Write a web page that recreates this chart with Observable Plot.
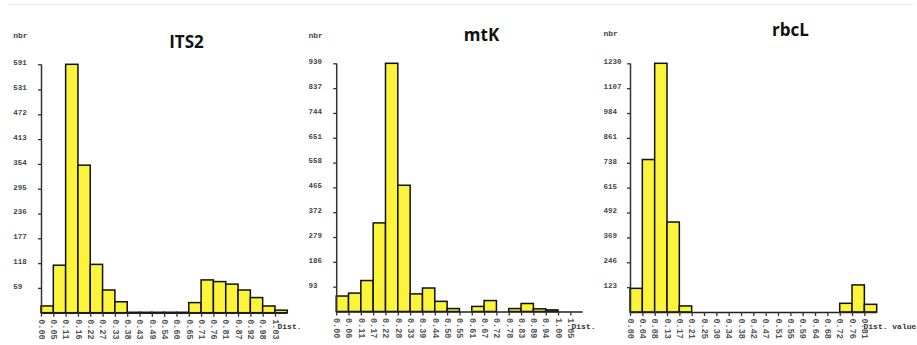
<!DOCTYPE html>
<html><head><meta charset="utf-8">
<script src="https://cdn.jsdelivr.net/npm/d3@7"></script>
<script src="https://cdn.jsdelivr.net/npm/@observablehq/plot@0.6"></script>
<style>
body{margin:0;background:#fff;}
#wrap{position:relative;width:917px;height:345px;overflow:hidden;background:#fff;}
.panel{position:absolute;top:0;}
#topline{position:absolute;left:8px;top:4px;width:905px;height:1px;background:#e6e6e6;}
</style></head><body>
<div id="wrap"><div id="topline"></div></div>
<script>
// ---- data ----
const its2Values = [16,113,591,351,115,54,26,1,1,1,1,1,24,78,74,68,54,36,16,6];
const its2Labels = ["0.00","0.05","0.11","0.16","0.22","0.27","0.33","0.38","0.43","0.49","0.54","0.60","0.65","0.71","0.76","0.81","0.87","0.92","0.98","1.03"];
const its2YTicks = [59,118,177,236,295,354,413,472,531,591];

const mtkValues = [58,69,116,332,930,473,66,88,38,11,0,19,41,0,11,30,10,6,0,0];
const mtkLabels = ["0.00","0.06","0.11","0.17","0.22","0.28","0.33","0.39","0.44","0.50","0.55","0.61","0.67","0.72","0.78","0.83","0.89","0.94","1.00","1.05"];
const mtkYTicks = [93,186,279,372,465,558,651,744,837,930];

const rbclValues = [117,754,1230,445,30,0,0,0,0,0,0,0,0,0,0,0,0,43,134,38];
const rbclLabels = ["0.00","0.04","0.08","0.13","0.17","0.21","0.25","0.30","0.34","0.38","0.42","0.47","0.51","0.55","0.59","0.64","0.68","0.72","0.76","0.81"];
const rbclYTicks = [123,246,369,492,615,738,861,984,1107,1230];

const titles = ["ITS2","mtK","rbcL"];
const yTitle = "nbr";
const xTitles = ["Dist.","Dist.","Dist. value"];

// ---- layout ----
const panels = [
  {title: titles[0], values: its2Values, labels: its2Labels, yTicks: its2YTicks, xTitle: xTitles[0],
   left: 0, width: 300, mL: 41, mR: 12.7, mT: 64.3, mB: 32.3, labX: 12.7, nbrY: 32, distX: 277, titleX: 186, titleY: 35},
  {title: titles[1], values: mtkValues, labels: mtkLabels, yTicks: mtkYTicks, xTitle: xTitles[1],
   left: 300, width: 300, mL: 36.2, mR: 17.3, mT: 63.3, mB: 33.5, labX: 8, nbrY: 32, distX: 271, titleX: 181, titleY: 28},
  {title: titles[2], values: rbclValues, labels: rbclLabels, yTicks: rbclYTicks, xTitle: xTitles[2],
   left: 600, width: 317, mL: 30, mR: 40.3, mT: 63.3, mB: 33, labX: 3, nbrY: 30, distX: 263, titleX: 190, titleY: 23}
];

const mono = "'Liberation Mono', 'DejaVu Sans Mono', monospace";
const wrap = document.getElementById("wrap");

for (const p of panels) {
  const n = p.values.length;
  const bins = p.values.map((v, i) => ({i, v}));
  const ticks = p.labels.map((t, i) => ({i, t}));
  const yMax = p.yTicks[p.yTicks.length - 1];
  const svg = Plot.plot({
    width: p.width, height: 345,
    marginLeft: p.mL, marginRight: p.mR, marginTop: p.mT, marginBottom: p.mB,
    x: {domain: [0, n], axis: null},
    y: {domain: [0, yMax], axis: null},
    style: {background: "transparent", overflow: "visible"},
    marks: [
      Plot.rectY(bins, {x1: "i", x2: d => d.i + 1, y: "v", fill: "#fbf43a", stroke: "#111", strokeWidth: 1.5}),
      Plot.ruleY([0], {stroke: "#222", strokeWidth: 1.6}),
      Plot.ruleX([0], {stroke: "#333", strokeWidth: 1.5}),
      Plot.axisY({ticks: p.yTicks, tickSize: 3, tickFormat: () => "", label: null, stroke: "#333", strokeWidth: 1.3}),
      Plot.text(p.yTicks, {frameAnchor: "left", y: d => d, text: d => String(d), textAnchor: "start",
        dx: p.labX - p.mL, dy: -2, fontFamily: mono, fontSize: 7.5, fontWeight: "bold", fill: "#444"}),
      Plot.axisX({ticks: d3.range(n), tickSize: 4, tickFormat: () => "", label: null, stroke: "#333", strokeWidth: 1.3}),
      Plot.text(ticks, {x: "i", y: 0, text: "t", rotate: 90, textAnchor: "start", lineAnchor: "middle",
        dy: 6, fontFamily: mono, fontSize: 8.5, fontWeight: "bold", fill: "#555"}),
      Plot.text([p.xTitle], {frameAnchor: "top-left", text: d => d, textAnchor: "start",
        dx: p.distX - p.mL, dy: 323 - p.mT, fontFamily: mono, fontSize: 8, fontWeight: "bold", fill: "#333"}),
      Plot.text([yTitle], {frameAnchor: "top-left", text: d => d, textAnchor: "start",
        dx: p.labX - p.mL, dy: p.nbrY - p.mT, fontFamily: mono, fontSize: 8, fontWeight: "bold", fill: "#444"}),
      Plot.text([p.title], {frameAnchor: "top-left", text: d => d, textAnchor: "middle",
        dx: p.titleX - p.mL, dy: p.titleY - p.mT, fontFamily: "'Open Sans', 'Noto Sans', sans-serif",
        fontSize: 17, fontWeight: "bold", fill: "#111"})
    ]
  });
  svg.classList.add("panel");
  svg.style.left = p.left + "px";
  wrap.appendChild(svg);
}
</script>
</body></html>
